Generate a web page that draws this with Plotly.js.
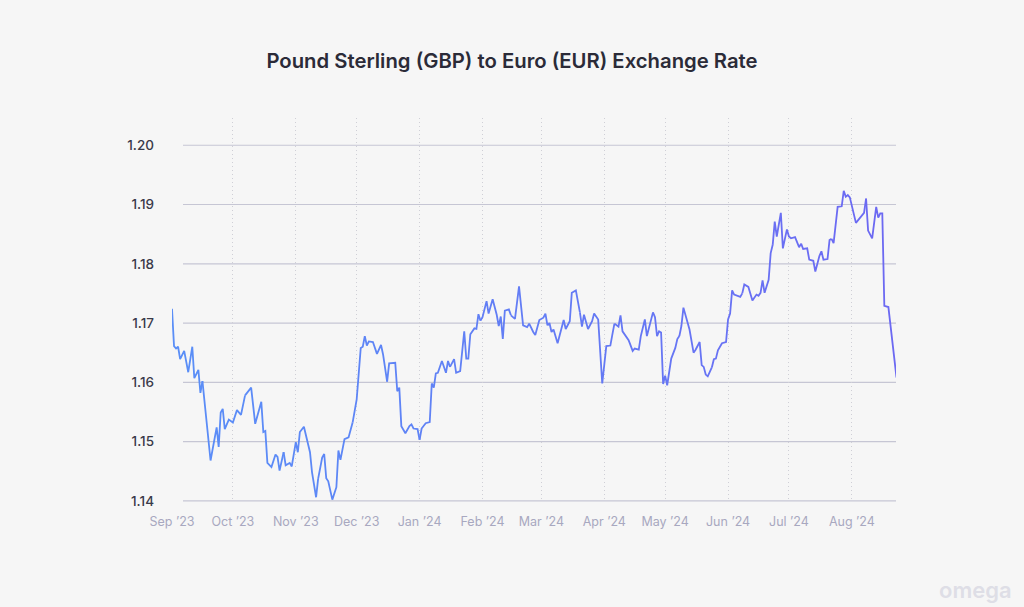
<!DOCTYPE html>
<html>
<head>
<meta charset="utf-8">
<script src="https://cdn.plot.ly/plotly-3.0.1.min.js"></script>
<style>
html,body{margin:0;padding:0;background:#f6f6f6;}
#chart{width:1024px;height:607px;}
</style>
</head>
<body>
<div id="chart"></div>
<script>
// GBP -> EUR daily exchange rate
const dates = [
"2023-09-01","2023-09-02","2023-09-03","2023-09-04","2023-09-05","2023-09-07","2023-09-09","2023-09-11","2023-09-12","2023-09-14",
"2023-09-15","2023-09-16","2023-09-20","2023-09-23","2023-09-24","2023-09-25","2023-09-26","2023-09-27","2023-09-29","2023-10-01",
"2023-10-03","2023-10-05","2023-10-07","2023-10-10","2023-10-12","2023-10-15","2023-10-16","2023-10-17","2023-10-18","2023-10-20",
"2023-10-22","2023-10-23","2023-10-24","2023-10-26","2023-10-27","2023-10-29","2023-10-30","2023-11-01","2023-11-02","2023-11-03",
"2023-11-05","2023-11-08","2023-11-09","2023-11-11","2023-11-12","2023-11-14","2023-11-15","2023-11-16","2023-11-17","2023-11-19",
"2023-11-21","2023-11-22","2023-11-23","2023-11-25","2023-11-27","2023-11-29","2023-12-01","2023-12-03","2023-12-04","2023-12-05",
"2023-12-06","2023-12-07","2023-12-09","2023-12-11","2023-12-13","2023-12-14","2023-12-16","2023-12-17","2023-12-20","2023-12-21",
"2023-12-22","2023-12-23","2023-12-25","2023-12-27","2023-12-28","2023-12-29","2023-12-31","2024-01-01","2024-01-02","2024-01-04",
"2024-01-06","2024-01-07","2024-01-08","2024-01-09","2024-01-10","2024-01-12","2024-01-14","2024-01-15","2024-01-16","2024-01-18",
"2024-01-19","2024-01-21","2024-01-23","2024-01-24","2024-01-25","2024-01-26","2024-01-28","2024-01-29","2024-01-30","2024-01-31",
"2024-02-01","2024-02-03","2024-02-04","2024-02-06","2024-02-08","2024-02-09","2024-02-10","2024-02-11","2024-02-12","2024-02-14",
"2024-02-15","2024-02-17","2024-02-19","2024-02-21","2024-02-23","2024-02-24","2024-02-26","2024-02-27","2024-02-29","2024-03-02",
"2024-03-03","2024-03-04","2024-03-05","2024-03-06","2024-03-07","2024-03-09","2024-03-11","2024-03-12","2024-03-13","2024-03-15",
"2024-03-16","2024-03-18","2024-03-20","2024-03-21","2024-03-22","2024-03-24","2024-03-26","2024-03-27","2024-03-29","2024-03-31",
"2024-04-02","2024-04-04","2024-04-05","2024-04-06","2024-04-08","2024-04-09","2024-04-10","2024-04-13","2024-04-15","2024-04-16",
"2024-04-18","2024-04-19","2024-04-21","2024-04-22","2024-04-25","2024-04-26","2024-04-27","2024-04-28","2024-04-29","2024-04-30",
"2024-05-01","2024-05-02","2024-05-04","2024-05-06","2024-05-07","2024-05-08","2024-05-09","2024-05-10","2024-05-13","2024-05-15",
"2024-05-16","2024-05-18","2024-05-19","2024-05-20","2024-05-21","2024-05-22","2024-05-24","2024-05-25","2024-05-26","2024-05-27",
"2024-05-29","2024-05-31","2024-06-01","2024-06-02","2024-06-03","2024-06-04","2024-06-07","2024-06-08","2024-06-09","2024-06-11",
"2024-06-13","2024-06-15","2024-06-16","2024-06-17","2024-06-18","2024-06-19","2024-06-21","2024-06-22","2024-06-23","2024-06-24",
"2024-06-25","2024-06-27","2024-06-28","2024-06-30","2024-07-01","2024-07-02","2024-07-04","2024-07-05","2024-07-06","2024-07-07",
"2024-07-08","2024-07-10","2024-07-11","2024-07-13","2024-07-14","2024-07-16","2024-07-17","2024-07-18","2024-07-20","2024-07-21",
"2024-07-22","2024-07-23","2024-07-25","2024-07-27","2024-07-28","2024-07-29","2024-07-30","2024-07-31","2024-08-03","2024-08-05",
"2024-08-07","2024-08-08","2024-08-09","2024-08-11","2024-08-13","2024-08-14","2024-08-15","2024-08-16","2024-08-17","2024-08-19",
"2024-08-23"
];
const rates = [
1.1724,1.1661,1.1657,1.1660,1.1639,1.1653,1.1617,1.1660,1.1607,1.1621,
1.1582,1.1602,1.1468,1.1524,1.1491,1.1549,1.1555,1.1521,1.1537,1.1532,
1.1553,1.1545,1.1578,1.1591,1.1530,1.1567,1.1516,1.1518,1.1464,1.1457,
1.1478,1.1474,1.1451,1.1482,1.1460,1.1464,1.1458,1.1499,1.1482,1.1516,
1.1525,1.1482,1.1448,1.1406,1.1437,1.1473,1.1479,1.1438,1.1433,1.1402,
1.1423,1.1485,1.1469,1.1504,1.1507,1.1532,1.1571,1.1658,1.1660,1.1678,
1.1662,1.1669,1.1668,1.1648,1.1663,1.1647,1.1601,1.1632,1.1633,1.1585,
1.1591,1.1526,1.1514,1.1526,1.1529,1.1522,1.1521,1.1503,1.1522,1.1531,
1.1533,1.1598,1.1591,1.1615,1.1616,1.1636,1.1616,1.1636,1.1626,1.1639,
1.1616,1.1619,1.1686,1.1640,1.1640,1.1681,1.1691,1.1690,1.1715,1.1704,
1.1710,1.1737,1.1716,1.1740,1.1714,1.1695,1.1711,1.1673,1.1721,1.1723,
1.1713,1.1707,1.1762,1.1696,1.1693,1.1699,1.1685,1.1680,1.1705,1.1709,
1.1716,1.1696,1.1700,1.1685,1.1689,1.1666,1.1694,1.1705,1.1690,1.1703,
1.1751,1.1755,1.1718,1.1694,1.1714,1.1690,1.1703,1.1716,1.1706,1.1598,
1.1661,1.1662,1.1681,1.1699,1.1694,1.1713,1.1686,1.1671,1.1653,1.1657,
1.1655,1.1678,1.1706,1.1678,1.1718,1.1710,1.1678,1.1686,1.1684,1.1597,
1.1611,1.1595,1.1640,1.1658,1.1673,1.1678,1.1695,1.1726,1.1689,1.1650,
1.1655,1.1668,1.1629,1.1626,1.1613,1.1610,1.1625,1.1639,1.1640,1.1654,
1.1666,1.1668,1.1706,1.1716,1.1755,1.1748,1.1744,1.1750,1.1765,1.1761,
1.1738,1.1748,1.1746,1.1751,1.1772,1.1751,1.1773,1.1818,1.1832,1.1871,
1.1846,1.1886,1.1826,1.1858,1.1846,1.1843,1.1845,1.1836,1.1828,1.1834,
1.1825,1.1826,1.1807,1.1805,1.1787,1.1813,1.1821,1.1807,1.1808,1.1840,
1.1842,1.1835,1.1896,1.1897,1.1923,1.1913,1.1916,1.1912,1.1869,1.1878,
1.1886,1.1910,1.1856,1.1843,1.1896,1.1878,1.1885,1.1885,1.1729,1.1727,
1.1608
];
const monthTicks = ["2023-09-01","2023-10-01","2023-11-01","2023-12-01","2024-01-01","2024-02-01","2024-03-01","2024-04-01","2024-05-01","2024-06-01","2024-07-01","2024-08-01"];
const monthLabels = ["Sep \u201923","Oct \u201923","Nov \u201923","Dec \u201923","Jan \u201924","Feb \u201924","Mar \u201924","Apr \u201924","May \u201924","Jun \u201924","Jul \u201924","Aug \u201924"];
const yTicks = [1.14,1.15,1.16,1.17,1.18,1.19,1.20];
const yLabels = ["1.14","1.15","1.16","1.17","1.18","1.19","1.20"];

// gradient line: split into segments with blended colours (blue -> violet)
const c0 = [90,142,247], c1 = [110,102,242];
const nSeg = 24;
const traces = [];
const per = Math.ceil(rates.length / nSeg);
for (let s = 0; s < nSeg; s++) {
  const a = s * per;
  if (a >= rates.length - 1) break;
  const b = Math.min(rates.length, a + per + 1);
  const t = s / (nSeg - 1);
  const col = `rgb(${Math.round(c0[0]+(c1[0]-c0[0])*t)},${Math.round(c0[1]+(c1[1]-c0[1])*t)},${Math.round(c0[2]+(c1[2]-c0[2])*t)})`;
  traces.push({
    x: dates.slice(a, b), y: rates.slice(a, b),
    type: 'scatter', mode: 'lines',
    line: {color: col, width: 1.8, shape: 'linear'},
    hoverinfo: 'x+y', showlegend: false
  });
}

const shapes = yTicks.map(v => ({
  type: 'line', xref: 'paper', yref: 'y',
  x0: 0.0152, x1: 1, y0: v, y1: v,
  line: {color: '#c6c6d4', width: 1.2}, layer: 'below'
}));

const layout = {
  width: 1024, height: 607,
  paper_bgcolor: '#f6f6f6', plot_bgcolor: '#f6f6f6',
  margin: {l: 172, r: 128, t: 118, b: 105},
  title: {
    text: 'Pound Sterling (GBP) to Euro (EUR) Exchange Rate',
    font: {family: 'Inter, "Open Sans", sans-serif', size: 20.3, color: '#2b2b38', weight: 600},
    x: 0.5, xanchor: 'center', y: 0.9, yref: 'container', yanchor: 'middle'
  },
  xaxis: {
    type: 'date',
    range: ['2023-09-01', '2024-08-22 18:00'],
    tickvals: monthTicks, ticktext: monthLabels,
    showgrid: true, gridcolor: '#cfcfd6', griddash: '1px,3px', gridwidth: 1,
    zeroline: false, showline: false, ticks: '',
    ticklabelstandoff: 10,
    tickfont: {family: 'Inter, "Open Sans", sans-serif', size: 12.5, color: '#a8a8c0'}
  },
  yaxis: {
    range: [1.1398, 1.2046],
    tickvals: yTicks, ticktext: yLabels,
    showgrid: false, zeroline: false, showline: false, ticks: '',
    ticklabelstandoff: 17,
    tickfont: {family: 'Inter, "Open Sans", sans-serif', size: 13.5, color: '#3a3a4a', weight: 500}
  },
  shapes: shapes,
  annotations: [{
    text: 'omega', xref: 'paper', yref: 'paper', x: 1.163, y: -0.228,
    xanchor: 'right', yanchor: 'middle', showarrow: false,
    font: {family: 'Inter, "Open Sans", sans-serif', size: 22, color: '#dedee6', weight: 600}
  }]
};

Plotly.newPlot('chart', traces, layout, {displayModeBar: false, staticPlot: true});
</script>
</body>
</html>
